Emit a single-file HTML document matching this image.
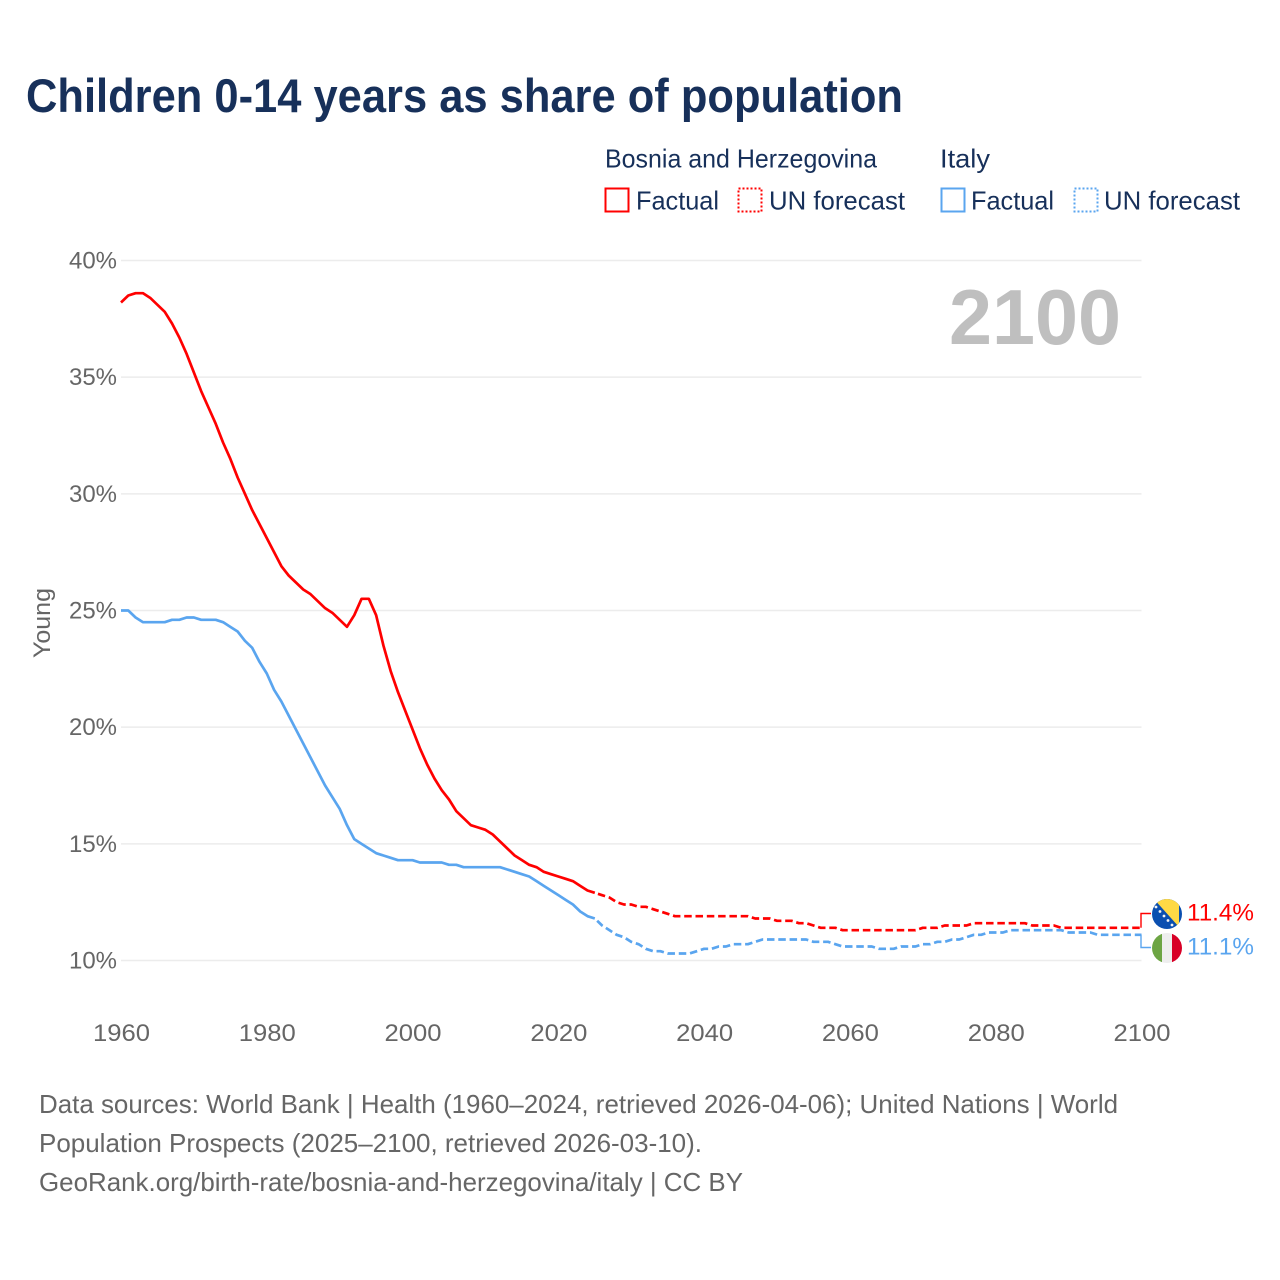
<!DOCTYPE html>
<html lang="en">
<head>
<meta charset="utf-8">
<title>Children 0-14 years as share of population</title>
<style>
html,body{margin:0;padding:0;background:#fff;}
svg{display:block;font-family:"Liberation Sans",sans-serif;}
</style>
</head>
<body>
<svg id="chart" xmlns="http://www.w3.org/2000/svg" width="1280" height="1280" viewBox="0 0 1280 1280">
  <defs>
    <clipPath id="flag-clip-ba"><circle cx="1167" cy="914" r="15"/></clipPath>
    <clipPath id="flag-clip-it"><circle cx="1167" cy="948" r="15"/></clipPath>
  </defs>
  <rect x="0" y="0" width="1280" height="1280" fill="#fff"/>
  <text x="26" y="112" font-size="47" font-weight="700" fill="#17305a" textLength="877" lengthAdjust="spacingAndGlyphs">Children 0-14 years as share of population</text>

  <g font-size="26" fill="#17305a">
    <text x="605" y="167.5" textLength="272" lengthAdjust="spacingAndGlyphs">Bosnia and Herzegovina</text>
    <text x="940" y="167.5" textLength="50" lengthAdjust="spacingAndGlyphs">Italy</text>
    <rect x="605.5" y="188.5" width="23" height="23" fill="none" stroke="#ff0000" stroke-width="2"/>
    <text x="636" y="209.5" textLength="83" lengthAdjust="spacingAndGlyphs">Factual</text>
    <rect x="738.5" y="188.5" width="23" height="23" fill="none" stroke="#ff0000" stroke-width="2" stroke-dasharray="2 2"/>
    <text x="769" y="209.5" textLength="136" lengthAdjust="spacingAndGlyphs">UN forecast</text>
    <rect x="941.5" y="188.5" width="23" height="23" fill="none" stroke="#5aa5ef" stroke-width="2"/>
    <text x="971" y="209.5" textLength="83" lengthAdjust="spacingAndGlyphs">Factual</text>
    <rect x="1074.5" y="188.5" width="23" height="23" fill="none" stroke="#5aa5ef" stroke-width="2" stroke-dasharray="2 2"/>
    <text x="1104" y="209.5" textLength="136" lengthAdjust="spacingAndGlyphs">UN forecast</text>
  </g>

  <g id="grid"></g>
  <g id="ytick-labels"></g>
  <g id="xtick-labels"></g>
  <text transform="translate(50,623) rotate(-90)" text-anchor="middle" font-size="24" fill="#666" textLength="70" lengthAdjust="spacingAndGlyphs">Young</text>
  <text x="949" y="344" font-size="78" font-weight="700" fill="#bfbfbf" textLength="172" lengthAdjust="spacingAndGlyphs">2100</text>

  <g id="series"></g>

  <g fill="none" stroke-width="1.4">
    <path id="connector-ba" stroke="#ff0000"/>
    <path id="connector-it" stroke="#5aa5ef"/>
  </g>

  <g clip-path="url(#flag-clip-ba)">
    <rect x="1150" y="897" width="34" height="34" fill="#0b4fb0"/>
    <polygon points="1153,898 1179,898 1179,927" fill="#ffd945"/>
    <g fill="#f4f4f4">
      <circle cx="1156" cy="907" r="1.4"/><circle cx="1160" cy="911.5" r="1.4"/><circle cx="1164" cy="916" r="1.4"/>
      <circle cx="1168" cy="920.5" r="1.4"/><circle cx="1172" cy="925" r="1.4"/>
    </g>
  </g>
  <g clip-path="url(#flag-clip-it)">
    <rect x="1152" y="933" width="10" height="30" fill="#6da544"/>
    <rect x="1162" y="933" width="10" height="30" fill="#eeeeee"/>
    <rect x="1172" y="933" width="10" height="30" fill="#d80027"/>
  </g>
  <text id="value-ba" x="1187" y="920.5" font-size="24" fill="#ff0000" textLength="67" lengthAdjust="spacingAndGlyphs"></text>
  <text id="value-it" x="1187" y="954.5" font-size="24" fill="#5aa5ef" textLength="67" lengthAdjust="spacingAndGlyphs"></text>

  <g font-size="26" fill="#666">
    <text x="39" y="1113" textLength="1079" lengthAdjust="spacingAndGlyphs">Data sources: World Bank | Health (1960–2024, retrieved 2026-04-06); United Nations | World</text>
    <text x="39" y="1152" textLength="663" lengthAdjust="spacingAndGlyphs">Population Prospects (2025–2100, retrieved 2026-03-10).</text>
    <text x="39" y="1191" textLength="704" lengthAdjust="spacingAndGlyphs">GeoRank.org/birth-rate/bosnia-and-herzegovina/italy | CC BY</text>
  </g>
</svg>
<script>
const firstYear = 1960;
const lastYear = 2100;
const forecastStartYear = 2025;
const yTicks = [10, 15, 20, 25, 30, 35, 40];
const xTicks = [1960, 1980, 2000, 2020, 2040, 2060, 2080, 2100];
const bosniaValues = [
  38.2,38.5,38.6,38.6,38.4,38.1,37.8,37.3,36.7,36.0,
  35.2,34.4,33.7,33.0,32.2,31.5,30.7,30.0,29.3,28.7,
  28.1,27.5,26.9,26.5,26.2,25.9,25.7,25.4,25.1,24.9,
  24.6,24.3,24.8,25.5,25.5,24.8,23.5,22.4,21.5,20.7,
  19.9,19.1,18.4,17.8,17.3,16.9,16.4,16.1,15.8,15.7,
  15.6,15.4,15.1,14.8,14.5,14.3,14.1,14.0,13.8,13.7,
  13.6,13.5,13.4,13.2,13.0,12.9,12.8,12.7,12.5,12.4,
  12.4,12.3,12.3,12.2,12.1,12.0,11.9,11.9,11.9,11.9,
  11.9,11.9,11.9,11.9,11.9,11.9,11.9,11.8,11.8,11.8,
  11.7,11.7,11.7,11.6,11.6,11.5,11.4,11.4,11.4,11.3,
  11.3,11.3,11.3,11.3,11.3,11.3,11.3,11.3,11.3,11.3,
  11.4,11.4,11.4,11.5,11.5,11.5,11.5,11.6,11.6,11.6,
  11.6,11.6,11.6,11.6,11.6,11.5,11.5,11.5,11.5,11.4,
  11.4,11.4,11.4,11.4,11.4,11.4,11.4,11.4,11.4,11.4,
  11.4
];
const italyValues = [
  25.0,25.0,24.7,24.5,24.5,24.5,24.5,24.6,24.6,24.7,
  24.7,24.6,24.6,24.6,24.5,24.3,24.1,23.7,23.4,22.8,
  22.3,21.6,21.1,20.5,19.9,19.3,18.7,18.1,17.5,17.0,
  16.5,15.8,15.2,15.0,14.8,14.6,14.5,14.4,14.3,14.3,
  14.3,14.2,14.2,14.2,14.2,14.1,14.1,14.0,14.0,14.0,
  14.0,14.0,14.0,13.9,13.8,13.7,13.6,13.4,13.2,13.0,
  12.8,12.6,12.4,12.1,11.9,11.8,11.5,11.3,11.1,11.0,
  10.8,10.7,10.5,10.4,10.4,10.3,10.3,10.3,10.3,10.4,
  10.5,10.5,10.6,10.6,10.7,10.7,10.7,10.8,10.9,10.9,
  10.9,10.9,10.9,10.9,10.9,10.8,10.8,10.8,10.7,10.6,
  10.6,10.6,10.6,10.6,10.5,10.5,10.5,10.6,10.6,10.6,
  10.7,10.7,10.8,10.8,10.9,10.9,11.0,11.1,11.1,11.2,
  11.2,11.2,11.3,11.3,11.3,11.3,11.3,11.3,11.3,11.3,
  11.2,11.2,11.2,11.2,11.1,11.1,11.1,11.1,11.1,11.1,
  11.1
];

const NS = 'http://www.w3.org/2000/svg';
const plotLeft = 121, plotRight = 1141.5, plotTop = 260.5, plotBottom = 960.5;
function xScale(year) {
  return plotLeft + (year - firstYear) * (plotRight - plotLeft) / (lastYear - firstYear);
}
function yScale(value) {
  return plotBottom - (value - yTicks[0]) * (plotBottom - plotTop) / (yTicks[yTicks.length - 1] - yTicks[0]);
}
function points(values, from, to) {
  const out = [];
  for (let year = from; year <= to; year++) {
    out.push(xScale(year).toFixed(2) + ',' + yScale(values[year - firstYear]).toFixed(2));
  }
  return out.join(' ');
}

const gridGroup = document.getElementById('grid');
const yLabelGroup = document.getElementById('ytick-labels');
yTicks.forEach(function (tick) {
  const line = document.createElementNS(NS, 'line');
  
  
  line.setAttribute('x1', plotLeft);
  line.setAttribute('x2', plotRight);
  line.setAttribute('y1', yScale(tick));
  line.setAttribute('y2', yScale(tick));
  line.setAttribute('stroke', '#ececec');
  line.setAttribute('stroke-width', '1.5');
  gridGroup.appendChild(line);

  const label = document.createElementNS(NS, 'text');
  
  
  label.setAttribute('x', '69');
  label.setAttribute('y', yScale(tick) + 8);
  label.setAttribute('font-size', '24');
  label.setAttribute('fill', '#666');
  label.setAttribute('textLength', '48');
  label.setAttribute('lengthAdjust', 'spacingAndGlyphs');
  label.textContent = tick + '%';
  yLabelGroup.appendChild(label);
});

const xLabelGroup = document.getElementById('xtick-labels');
xTicks.forEach(function (tick) {
  const label = document.createElementNS(NS, 'text');
  
  
  label.setAttribute('x', xScale(tick) - 28);
  label.setAttribute('y', '1041');
  label.setAttribute('font-size', '24');
  label.setAttribute('fill', '#666');
  label.setAttribute('textLength', '57');
  label.setAttribute('lengthAdjust', 'spacingAndGlyphs');
  label.textContent = tick;
  xLabelGroup.appendChild(label);
});

const seriesGroup = document.getElementById('series');
function drawSeries(values, color, key) {
  const solid = document.createElementNS(NS, 'polyline');
  
  
  solid.setAttribute('points', points(values, firstYear, forecastStartYear));
  solid.setAttribute('fill', 'none');
  solid.setAttribute('stroke', color);
  solid.setAttribute('stroke-width', '2.7');
  solid.setAttribute('stroke-linejoin', 'round');
  seriesGroup.appendChild(solid);

  const dashed = document.createElementNS(NS, 'polyline');
  
  
  dashed.setAttribute('points', points(values, forecastStartYear, lastYear));
  dashed.setAttribute('fill', 'none');
  dashed.setAttribute('stroke', color);
  dashed.setAttribute('stroke-width', '2.7');
  dashed.setAttribute('stroke-dasharray', '7.5 3.8');
  dashed.setAttribute('stroke-dashoffset', '8');
  dashed.setAttribute('stroke-linejoin', 'round');
  seriesGroup.appendChild(dashed);
}
drawSeries(italyValues, '#5aa5ef', 'italy');
drawSeries(bosniaValues, '#ff0000', 'bosnia');

const baLast = bosniaValues[bosniaValues.length - 1];
const itLast = italyValues[italyValues.length - 1];
document.getElementById('connector-ba').setAttribute('d', 'M1141,' + yScale(baLast).toFixed(1) + ' V913.5 H1151');
document.getElementById('connector-it').setAttribute('d', 'M1141,' + yScale(itLast).toFixed(1) + ' V947.5 H1151');
document.getElementById('value-ba').textContent = baLast.toFixed(1) + '%';
document.getElementById('value-it').textContent = itLast.toFixed(1) + '%';
</script>
</body>
</html>
